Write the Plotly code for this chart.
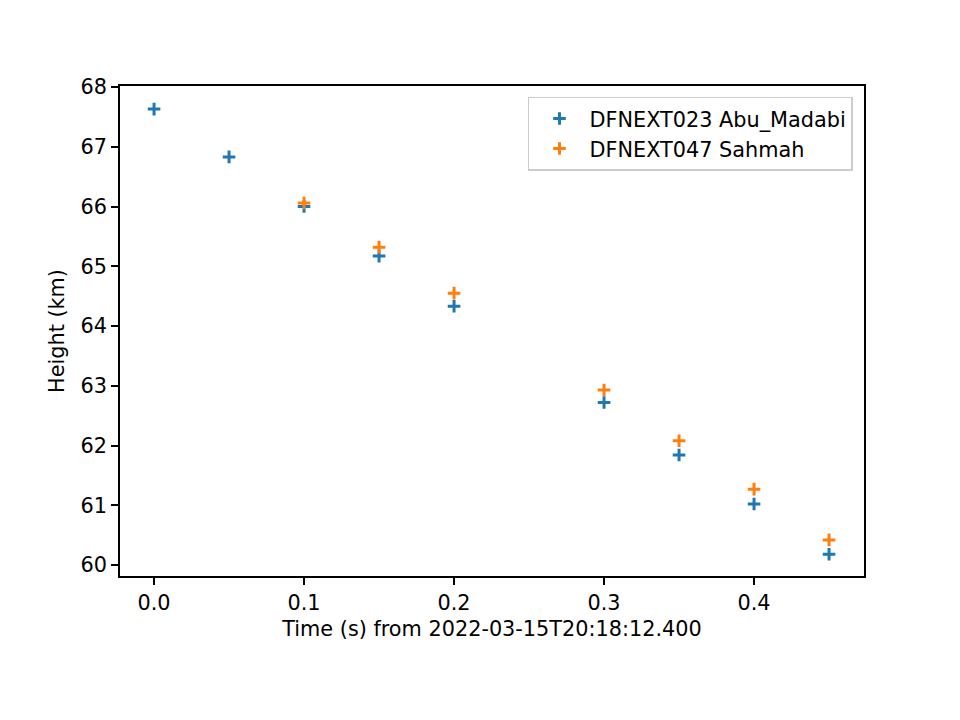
import plotly.graph_objects as go

t_abu = [0.0, 0.05, 0.10, 0.15, 0.20, 0.30, 0.35, 0.40, 0.45]
h_abu = [67.63, 66.83, 66.00, 65.17, 64.33, 62.72, 61.84, 61.02, 60.18]
t_sah = [0.10, 0.15, 0.20, 0.30, 0.35, 0.40, 0.45]
h_sah = [66.06, 65.32, 64.55, 62.93, 62.08, 61.27, 60.42]

x_ticks = [0.0, 0.1, 0.2, 0.3, 0.4]
y_ticks = [60, 61, 62, 63, 64, 65, 66, 67, 68]

FONT = "DejaVu Sans"
FS = 20.8

fig = go.Figure()
for name, xs, ys, col in [("DFNEXT023 Abu_Madabi", t_abu, h_abu, "#1f77b4"),
                          ("DFNEXT047 Sahmah", t_sah, h_sah, "#ff7f0e")]:
    fig.add_trace(go.Scatter(
        x=xs, y=ys, mode="markers", name=name,
        marker=dict(symbol="cross-thin", size=9, color=col,
                    line=dict(color=col, width=3)),
    ))

axis_common = dict(
    showline=True, linecolor="black", linewidth=1.5, mirror=True,
    ticks="outside", ticklen=7, tickwidth=1.5, tickcolor="black",
    showgrid=False, zeroline=False,
    tickfont=dict(family=FONT, size=FS, color="black"),
)

fig.update_layout(
    width=960, height=720,
    margin=dict(l=120, r=96, t=86, b=144),
    paper_bgcolor="white", plot_bgcolor="white",
    font=dict(family=FONT, size=FS, color="black"),
    xaxis=dict(range=[-0.0227, 0.4733], tickvals=x_ticks,
               ticktext=[f"{v:.1f}" for v in x_ticks],
               title=dict(text="Time (s) from 2022-03-15T20:18:12.400",
                          font=dict(family=FONT, size=FS), standoff=8),
               **axis_common),
    yaxis=dict(range=[59.816, 68.017], tickvals=y_ticks,
               ticktext=[str(v) for v in y_ticks],
               title=dict(text="Height (km)", font=dict(family=FONT, size=FS), standoff=10),
               **axis_common),
    legend=dict(x=0.9852, y=0.9776, xanchor="right", yanchor="top",
                bgcolor="rgba(255,255,255,0.8)", bordercolor="#cccccc", borderwidth=1.5,
                font=dict(family=FONT, size=FS), tracegroupgap=0, itemwidth=50),
    showlegend=True,
)

fig.write_html("out.html")
